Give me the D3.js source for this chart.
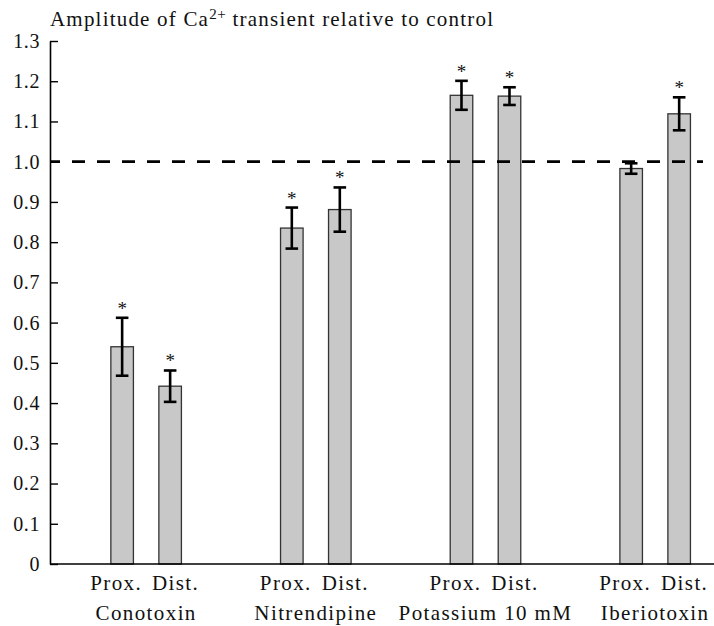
<!DOCTYPE html>
<html>
<head>
<meta charset="utf-8">
<script src="https://cdn.jsdelivr.net/npm/d3@7"></script>
<style>
  html, body { margin: 0; padding: 0; background: #fff; }
  svg { display: block; }
  svg text { font-family: "Liberation Serif", "Times New Roman", Times, serif; fill: #111; }
</style>
</head>
<body>
<svg id="chart" width="714" height="626"></svg>
<script>
// ---- data ----
const groups = ["Conotoxin", "Nitrendipine", "Potassium 10 mM", "Iberiotoxin"];
const sites = ["Prox.", "Dist."];
const proxMean = [0.540, 0.835, 1.165, 0.983];
const proxErr  = [0.072, 0.051, 0.036, 0.013];
const distMean = [0.442, 0.881, 1.163, 1.119];
const distErr  = [0.039, 0.055, 0.022, 0.041];
const proxSig  = [true, true, true, false];
const distSig  = [true, true, true, true];
const yTicks = [0, 0.1, 0.2, 0.3, 0.4, 0.5, 0.6, 0.7, 0.8, 0.9, 1.0, 1.1, 1.2, 1.3];
const controlLevel = 1.0;

const rows = [];
groups.forEach((g, i) => {
  rows.push({group: g, site: sites[0], mean: proxMean[i], err: proxErr[i], sig: proxSig[i]});
  rows.push({group: g, site: sites[1], mean: distMean[i], err: distErr[i], sig: distSig[i]});
});

const FONT = '"Liberation Serif", "Times New Roman", Times, serif';
const svg = d3.select("#chart");
const axisX = 50, axisBottom = 564, axisTop = 41;

const y = d3.scaleLinear().domain([0, 1.3]).range([axisBottom, axisTop]);
const x0 = d3.scaleBand().domain(groups).range([61.3, 740]);
const x1 = d3.scaleBand().domain(sites).range([-48, 48]).paddingInner(0.53).paddingOuter(0.265);
const cx = d => x0(d.group) + x0.bandwidth() / 2 + x1(d.site) + x1.bandwidth() / 2;

// title
const title = svg.append("text").attr("x", 50).attr("y", 26)
  .attr("font-size", 21).attr("font-family", FONT).attr("letter-spacing", 1.2);
title.append("tspan").text("Amplitude of Ca");
title.append("tspan").attr("font-size", 15).attr("dy", -7).attr("letter-spacing", 0.5).text("2+");
title.append("tspan").attr("dy", 7).text(" transient relative to control");

// y axis
const yAxis = d3.axisLeft(y)
  .tickValues(yTicks)
  .tickFormat(d => d === 0 ? "0" : d3.format(".1f")(d))
  .tickSizeInner(-8)
  .tickSizeOuter(0)
  .tickPadding(10);
const gy = svg.append("g").attr("transform", `translate(${axisX},0)`).call(yAxis)
  .attr("font-family", FONT).attr("font-size", 20);
gy.select(".domain").attr("stroke", "#000").attr("stroke-width", 1.6);
gy.selectAll(".tick line").attr("stroke", "#000").attr("stroke-width", 1.4);
gy.selectAll(".tick text").attr("fill", "#111").attr("letter-spacing", 0.6);

// bars
svg.append("g").selectAll("rect").data(rows).join("rect")
  .attr("x", d => cx(d) - x1.bandwidth() / 2)
  .attr("width", x1.bandwidth())
  .attr("y", d => y(d.mean))
  .attr("height", d => y(0) - y(d.mean))
  .attr("fill", "#c8c8c8")
  .attr("stroke", "#333")
  .attr("stroke-width", 1.3);

// x axis line
svg.append("line")
  .attr("x1", axisX).attr("x2", 714)
  .attr("y1", y(0)).attr("y2", y(0))
  .attr("stroke", "#000").attr("stroke-width", 1.6);

// control dashed line
svg.append("line")
  .attr("x1", axisX).attr("x2", 703)
  .attr("y1", y(controlLevel)).attr("y2", y(controlLevel))
  .attr("stroke", "#000").attr("stroke-width", 2.7)
  .attr("stroke-dasharray", "13,12").attr("stroke-dashoffset", 3);

// error bars
const eb = svg.append("g").attr("stroke", "#000").attr("stroke-width", 2.6);
eb.selectAll("line.v").data(rows).join("line").attr("class", "v")
  .attr("x1", cx).attr("x2", cx)
  .attr("y1", d => y(d.mean + d.err)).attr("y2", d => y(d.mean - d.err));
eb.selectAll("line.t").data(rows).join("line").attr("class", "t")
  .attr("x1", d => cx(d) - 6.3).attr("x2", d => cx(d) + 6.3)
  .attr("y1", d => y(d.mean + d.err)).attr("y2", d => y(d.mean + d.err));
eb.selectAll("line.b").data(rows).join("line").attr("class", "b")
  .attr("x1", d => cx(d) - 6.3).attr("x2", d => cx(d) + 6.3)
  .attr("y1", d => y(d.mean - d.err)).attr("y2", d => y(d.mean - d.err));

// significance asterisks
svg.append("g").selectAll("text").data(rows.filter(d => d.sig)).join("text")
  .attr("x", cx)
  .attr("y", d => y(d.mean + d.err) - 3)
  .attr("text-anchor", "middle")
  .attr("font-family", FONT)
  .attr("font-size", 19)
  .attr("fill", "#444")
  .text("*");

// category labels
const gl = svg.append("g").attr("font-family", FONT).attr("font-size", 21).attr("letter-spacing", 1.4);
gl.selectAll("text.site").data(rows).join("text").attr("class", "site")
  .attr("x", d => cx(d) + (d.site === "Prox." ? -6 : 5.5))
  .attr("y", 590)
  .attr("text-anchor", "middle")
  .text(d => d.site);
gl.selectAll("text.grp").data(groups).join("text").attr("class", "grp")
  .attr("x", d => x0(d) + x0.bandwidth() / 2)
  .attr("y", 620)
  .attr("text-anchor", "middle")
  .text(d => d);
</script>
</body>
</html>
